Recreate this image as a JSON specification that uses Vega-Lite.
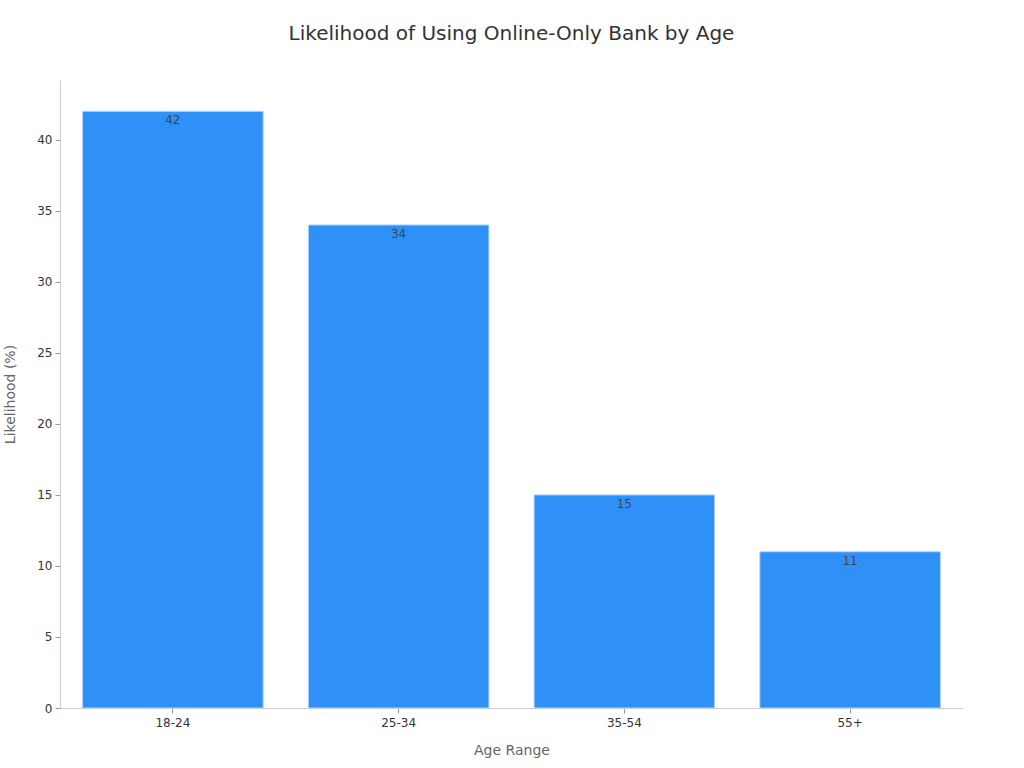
{
  "$schema": "https://vega.github.io/schema/vega-lite/v6.json",
  "autosize": {"type": "none"},
  "width": 903,
  "height": 628,
  "padding": {"left": 60, "top": 80, "right": 61, "bottom": 60},
  "background": "white",
  "title": {
    "text": "Likelihood of Using Online-Only Bank by Age",
    "anchor": "middle",
    "font": "DejaVu Sans",
    "fontSize": 20,
    "fontWeight": "normal",
    "color": "#333333",
    "offset": 36
  },
  "config": {
    "view": {"stroke": null},
    "font": "DejaVu Sans"
  },
  "data": {
    "values": [
      {"age": "18-24", "value": 42},
      {"age": "25-34", "value": 34},
      {"age": "35-54", "value": 15},
      {"age": "55+", "value": 11}
    ]
  },
  "encoding": {
    "x": {
      "field": "age",
      "type": "nominal",
      "sort": null,
      "title": "Age Range",
      "scale": {"paddingInner": 0.2, "paddingOuter": 0.1},
      "axis": {
        "labelAngle": 0,
        "labelFont": "DejaVu Sans",
        "labelFontSize": 12,
        "labelColor": "#333333",
        "labelPadding": 4,
        "titleFont": "DejaVu Sans",
        "titleFontSize": 14,
        "titleFontWeight": "normal",
        "titleColor": "#666666",
        "titlePadding": 15,
        "domainColor": "#cccccc",
        "tickColor": "#999999",
        "tickSize": 5
      }
    },
    "y": {
      "field": "value",
      "type": "quantitative",
      "title": "Likelihood (%)",
      "scale": {"domain": [0, 44.2], "nice": false},
      "axis": {
        "values": [0, 5, 10, 15, 20, 25, 30, 35, 40],
        "grid": false,
        "labelFont": "DejaVu Sans",
        "labelFontSize": 12,
        "labelColor": "#333333",
        "labelPadding": 3,
        "titleFont": "DejaVu Sans",
        "titleFontSize": 14,
        "titleFontWeight": "normal",
        "titleColor": "#666666",
        "titlePadding": 19,
        "domainColor": "#cccccc",
        "tickColor": "#999999",
        "tickSize": 5
      }
    }
  },
  "layer": [
    {
      "mark": {"type": "bar", "color": "#2f91f8", "stroke": "#b3d6fb", "strokeWidth": 1}
    },
    {
      "mark": {"type": "text", "baseline": "top", "dy": 4, "fontSize": 12, "color": "#444444", "font": "DejaVu Sans"},
      "encoding": {"text": {"field": "value", "type": "quantitative"}}
    }
  ]
}
